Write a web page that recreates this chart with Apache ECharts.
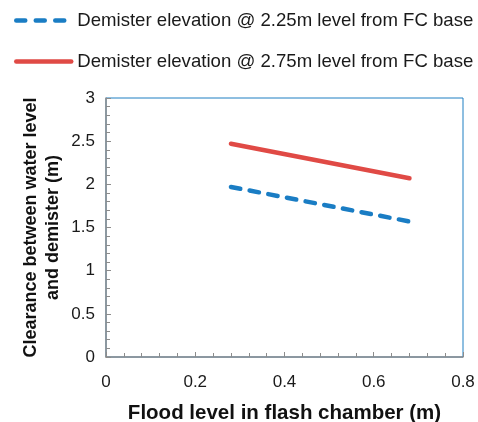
<!DOCTYPE html>
<html><head><meta charset="utf-8">
<script src="https://cdn.jsdelivr.net/npm/echarts@6/dist/echarts.min.js"></script>
<style>html,body{margin:0;padding:0;background:#fff}#c{width:478px;height:422px}</style>
</head><body><div id="c"></div>
<script>
var floodLevel = [0.28, 0.68];
var clearance225 = [1.97, 1.57];
var clearance275 = [2.47, 2.07];
var seriesNames = ['Demister elevation @ 2.25m level from FC base', 'Demister elevation @ 2.75m level from FC base'];
var xTicks = [0, 0.2, 0.4, 0.6, 0.8];
var yTicks = [0, 0.5, 1, 1.5, 2, 2.5, 3];

function pairs(xs, ys){ return xs.map(function(x,i){return [x, ys[i]];}); }

var chart = echarts.init(document.getElementById('c'));
var font = 'Liberation Sans, Arial, sans-serif';
chart.setOption({
  animation:false,
  textStyle:{fontFamily:font},
  legend:{
    orient:'vertical', left:14, top:11, padding:0, itemGap:22, itemWidth:55, itemHeight:20,
    itemStyle:{opacity:0},
    textStyle:{fontSize:18.6, color:'#1a1a1a', fontFamily:font, padding:[0,0,0,1]},
    data:[
      {name:seriesNames[0], lineStyle:{width:4.5, type:[9,10.5], cap:'round', color:'#1a7dc4'}},
      {name:seriesNames[1], lineStyle:{width:4.5, type:'solid', cap:'round', color:'#e04a45'}}
    ]
  },
  grid:{left:106, right:15, top:98, bottom:65, containLabel:false, outerBoundsMode:'none',
        show:true, borderColor:'#1f7ec2', borderWidth:1, backgroundColor:'transparent'},
  xAxis:{
    type:'value', min:xTicks[0], max:xTicks[xTicks.length-1], interval:0.2,
    name:'Flood level in flash chamber (m)', nameLocation:'middle', nameGap:46, nameMoveOverlap:false,
    nameTextStyle:{fontSize:20.5, fontWeight:'bold', color:'#111', fontFamily:font},
    axisLine:{show:true, lineStyle:{color:'#8c8c8c', width:1.5}},
    axisTick:{show:true, inside:true, length:5, lineStyle:{color:'#8c8c8c'}},
    minorTick:{show:true, splitNumber:5, length:4, lineStyle:{color:'#8c8c8c'}},
    splitLine:{show:false},
    axisLabel:{fontSize:17, color:'#1a1a1a', margin:17, formatter:function(v){return String(v);}}
  },
  yAxis:{
    type:'value', min:yTicks[0], max:yTicks[yTicks.length-1], interval:0.5,
    name:'Clearance between water level\nand demister (m)', nameLocation:'middle', nameGap:42, nameMoveOverlap:false,
    nameTextStyle:{fontSize:18, fontWeight:'bold', color:'#111', lineHeight:22, fontFamily:font},
    axisLine:{show:true, lineStyle:{color:'#8c8c8c', width:1.5}},
    axisTick:{show:true, inside:true, length:5, lineStyle:{color:'#8c8c8c'}},
    minorTick:{show:true, splitNumber:5, length:4, lineStyle:{color:'#8c8c8c'}},
    splitLine:{show:false},
    axisLabel:{fontSize:17, color:'#1a1a1a', margin:11, formatter:function(v){return String(v);}}
  },
  series:[
    {name:seriesNames[0], type:'line', data:pairs(floodLevel, clearance225), symbol:'none',
     lineStyle:{color:'#1a7dc4', width:4.5, type:[9.5,9.5], cap:'round'}, itemStyle:{color:'#1a7dc4'}},
    {name:seriesNames[1], type:'line', data:pairs(floodLevel, clearance275), symbol:'none',
     lineStyle:{color:'#e04a45', width:4.5, cap:'round'}, itemStyle:{color:'#e04a45'}}
  ]
});
</script></body></html>
